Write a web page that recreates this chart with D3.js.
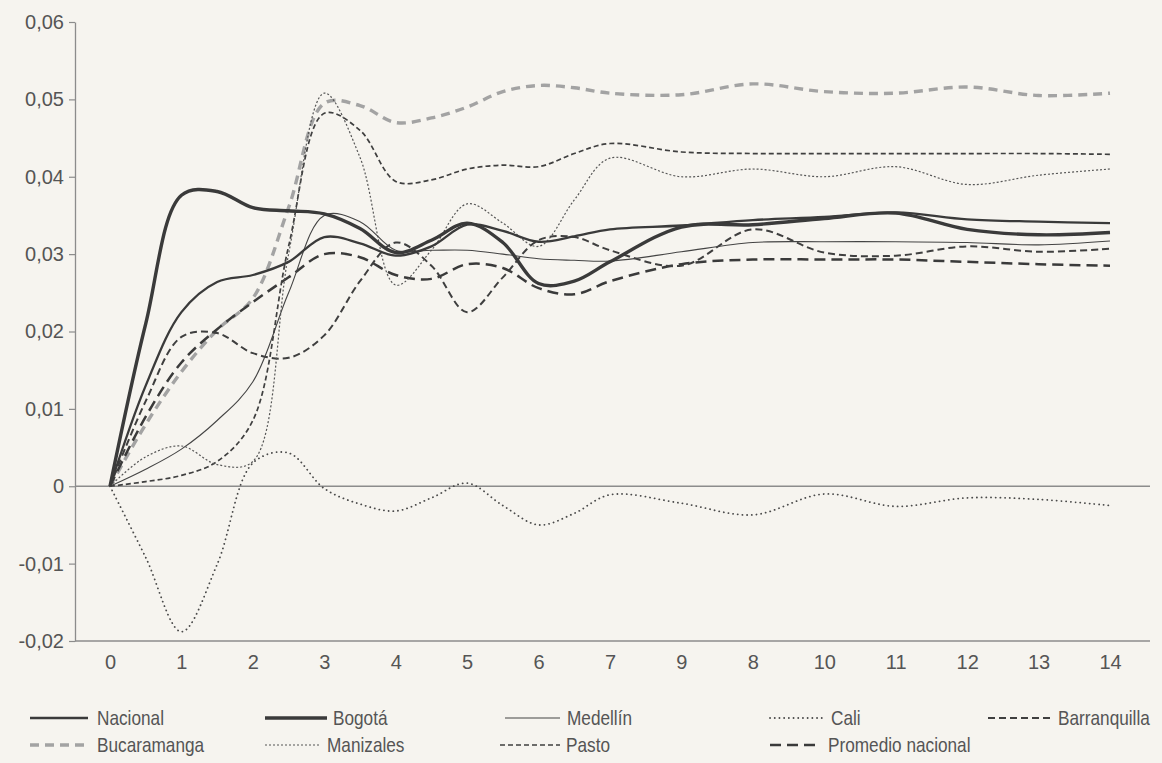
<!DOCTYPE html>
<html>
<head>
<meta charset="utf-8">
<script src="https://cdn.jsdelivr.net/npm/d3@7"></script>
<style>
  html, body { margin: 0; padding: 0; background: #f6f4ef; }
  svg { display: block; }
</style>
</head>
<body>
<svg id="chart" width="1162" height="763"></svg>
<script>
// ---- data ----
const periods = [0,0.5,1,1.5,2,2.5,3,3.5,4,4.5,5,5.5,6,6.5,7,8,9,10,11,12,13,14];
const xTickValues = [0,1,2,3,4,5,6,7,8,9,10,11,12,13,14];
const xTickLabels = ["0","1","2","3","4","5","6","7","9","8","10","11","12","13","14"];
const yTickValues = [-0.02,-0.01,0,0.01,0.02,0.03,0.04,0.05,0.06];

const nacional     = [0,0.013,0.0225,0.0264,0.0273,0.029,0.0322,0.0314,0.0298,0.031,0.0338,0.033,0.0316,0.0323,0.0332,0.0337,0.0344,0.0348,0.0354,0.0345,0.0342,0.034];
const bogota       = [0,0.021,0.0376,0.0381,0.036,0.0356,0.0352,0.0333,0.0302,0.0318,0.034,0.0315,0.0262,0.0265,0.029,0.0335,0.0338,0.0346,0.0353,0.0332,0.0325,0.0328];
const medellin     = [0,0.0022,0.0048,0.0085,0.0135,0.025,0.035,0.0342,0.0305,0.0305,0.0305,0.030,0.0294,0.0292,0.0291,0.0303,0.0315,0.0316,0.0316,0.0315,0.0312,0.0317];
const cali         = [0,-0.0092,-0.0188,-0.0101,0.003,0.0043,-0.0003,-0.0023,-0.0032,-0.0015,0.0004,-0.0025,-0.005,-0.0035,-0.0011,-0.0022,-0.0037,-0.001,-0.0026,-0.0015,-0.0017,-0.0025];
const barranquilla = [0,0.011,0.0193,0.0198,0.0172,0.0166,0.0195,0.0265,0.0315,0.0285,0.0225,0.027,0.0318,0.0322,0.0305,0.0285,0.0332,0.0302,0.0298,0.031,0.0303,0.0307];
const bucaramanga  = [0,0.008,0.0148,0.0202,0.0243,0.036,0.0495,0.0492,0.047,0.0476,0.049,0.051,0.0518,0.0515,0.0508,0.0506,0.052,0.051,0.0508,0.0516,0.0505,0.0508];
const manizales    = [0,0.0038,0.0052,0.0028,0.0032,0.030,0.0508,0.0425,0.026,0.0305,0.0365,0.034,0.031,0.037,0.0424,0.040,0.041,0.040,0.0413,0.039,0.0402,0.041];
const pasto        = [0,0.0006,0.0014,0.0032,0.0085,0.031,0.0482,0.046,0.0394,0.0396,0.041,0.0415,0.0413,0.043,0.0443,0.0432,0.043,0.043,0.043,0.043,0.043,0.0429];
const promedio     = [0,0.009,0.016,0.0203,0.0238,0.027,0.030,0.0296,0.0273,0.0268,0.0287,0.0282,0.0256,0.0248,0.0265,0.0287,0.0293,0.0293,0.0293,0.029,0.0287,0.0285];

const seriesNames = ["Nacional","Bogotá","Medellín","Cali","Barranquilla","Bucaramanga","Manizales","Pasto","Promedio nacional"];
const seriesValues = [nacional,bogota,medellin,cali,barranquilla,bucaramanga,manizales,pasto,promedio];

// ---- styles ----
const styles = {
  "Nacional":          {stroke:"#3a3a3a", width:2.3, dash:null, cap:"butt"},
  "Bogotá":            {stroke:"#3a3a3a", width:3.4, dash:null, cap:"butt"},
  "Medellín":          {stroke:"#444", width:1.1, dash:null, cap:"butt"},
  "Cali":              {stroke:"#4a4a4a", width:1.8, dash:"0.1,4.6", cap:"round"},
  "Barranquilla":      {stroke:"#3f3f3f", width:2.0, dash:"7,4", cap:"butt"},
  "Bucaramanga":       {stroke:"#a3a3a3", width:3.4, dash:"9,6", cap:"butt"},
  "Manizales":         {stroke:"#555", width:1.2, dash:"2,2", cap:"butt"},
  "Pasto":             {stroke:"#3f3f3f", width:1.7, dash:"5,3", cap:"butt"},
  "Promedio nacional": {stroke:"#3a3a3a", width:2.5, dash:"11,6", cap:"butt"}
};

const svg = d3.select("#chart");
const mLeft = 75, mRight = 1150, mTop = 22, mBottom = 641;
const x = d3.scaleLinear().domain([0,14]).range([110,1110]);
const y = d3.scaleLinear().domain([-0.02,0.06]).range([mBottom, mTop]);

const axisColor = "#8c8c8c";
const textColor = "#555";
const numFont = "'Liberation Sans', Arial, sans-serif";

// y axis
const fmt = v => Math.abs(v) < 1e-9 ? "0" : d3.format(".2f")(v).replace(".", ",").replace("\u2212", "-");
const yAxis = d3.axisLeft(y).tickValues(yTickValues).tickFormat(fmt).tickSize(6).tickSizeOuter(0).tickPadding(5);
const gy = svg.append("g").attr("transform", `translate(${mLeft},0)`).call(yAxis);
gy.select(".domain").attr("stroke", axisColor).attr("stroke-width", 1.3);
gy.selectAll(".tick line").attr("stroke", axisColor).attr("stroke-width", 1.2);
gy.selectAll(".tick text").attr("fill", textColor).style("font-family", numFont).style("font-size", "20px");

// zero line & bottom axis
svg.append("line").attr("x1", mLeft).attr("x2", mRight).attr("y1", y(0)).attr("y2", y(0))
  .attr("stroke", axisColor).attr("stroke-width", 1.3);
const xAxis = d3.axisBottom(x).tickValues(xTickValues).tickFormat((d,i) => xTickLabels[i]).tickSize(0).tickSizeOuter(0).tickPadding(14);
const gx = svg.append("g").attr("transform", `translate(0,${mBottom})`).call(xAxis);
gx.select(".domain").remove();
gx.append("line").attr("x1", mLeft).attr("x2", mRight).attr("y1", 0).attr("y2", 0)
  .attr("stroke", axisColor).attr("stroke-width", 1.3);
gx.selectAll(".tick text").attr("fill", textColor).style("font-family", numFont).style("font-size", "20px");

// lines
const line = d3.line().x(d => x(d[0])).y(d => y(d[1])).curve(d3.curveCatmullRom.alpha(0.5));
const drawOrder = ["Bucaramanga","Promedio nacional","Barranquilla","Pasto","Medellín","Manizales","Cali","Nacional","Bogotá"];
drawOrder.forEach(name => {
  const vals = seriesValues[seriesNames.indexOf(name)];
  const st = styles[name];
  svg.append("path")
    .datum(periods.map((p,i) => [p, vals[i]]))
    .attr("d", line)
    .attr("fill", "none")
    .attr("stroke", st.stroke)
    .attr("stroke-width", st.width)
    .attr("stroke-linecap", st.cap)
    .attr("stroke-dasharray", st.dash);
});

// legend
const legendItems = [
  {name:"Nacional", x1:30, x2:88, tx:97, y:718},
  {name:"Bogotá", x1:265, x2:327, tx:333, y:718},
  {name:"Medellín", x1:505, x2:560, tx:567, y:718},
  {name:"Cali", x1:770, x2:826, tx:831, y:718},
  {name:"Barranquilla", x1:988, x2:1050, tx:1058, y:718},
  {name:"Bucaramanga", x1:30, x2:88, tx:97, y:745},
  {name:"Manizales", x1:265, x2:320, tx:327, y:745},
  {name:"Pasto", x1:500, x2:560, tx:566, y:745},
  {name:"Promedio nacional", x1:770, x2:817, tx:828, y:745}
];
const lg = svg.append("g");
legendItems.forEach(it => {
  const st = styles[it.name];
  lg.append("line").attr("x1", it.x1).attr("x2", it.x2).attr("y1", it.y).attr("y2", it.y)
    .attr("stroke", st.stroke).attr("stroke-width", st.width)
    .attr("stroke-linecap", st.cap).attr("stroke-dasharray", st.dash);
  lg.append("g").attr("transform", `translate(${it.tx},${it.y + 7}) scale(0.82,1)`)
    .append("text").attr("x", 0).attr("y", 0).text(it.name)
    .attr("fill", textColor).style("font-family", numFont).style("font-size", "21px");
});
</script>
</body>
</html>
